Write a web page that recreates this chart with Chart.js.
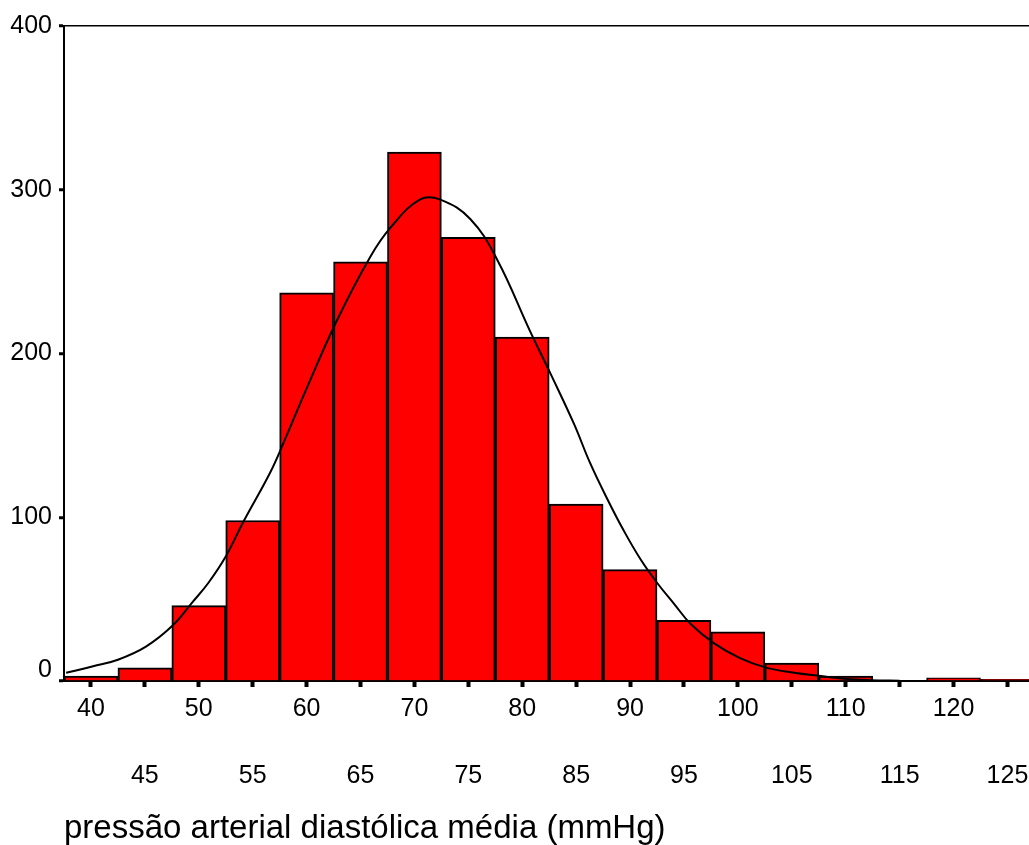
<!DOCTYPE html>
<html>
<head>
<meta charset="utf-8">
<script src="https://cdn.jsdelivr.net/npm/chart.js@4"></script>
<style>
  body { margin: 0; background: #fff; }
  #wrap { width: 1029px; height: 845px; }
</style>
</head>
<body>
<div id="wrap"><canvas id="myChart"></canvas></div>
<script>
// histogram bins (centre of each 5 mmHg class) and counts
var binCentres = [40, 45, 50, 55, 60, 65, 70, 75, 80, 85, 90, 95, 100, 105, 110, 115, 120, 125];
var binCounts  = [3, 8, 46, 98, 237, 256, 323, 271, 210, 108, 68, 37, 30, 11, 3, 0, 2, 1];

// normal curve
var curveX = [37.7, 40.2, 42.5, 45.1, 47.6, 49.4, 50.9, 52.5, 54.2, 56.6, 57.9, 59.7, 62.8, 65.9, 67.8, 70.5,
              72.4, 75.2, 77.7, 80.7, 82.6, 84.8, 86.3, 87.9, 89.4, 91.0, 92.5, 94.1, 95.6, 97.8, 100.2,
              102.7, 105.2, 107.7, 110.1, 112.3, 115];
var curveY = [5, 9, 13, 21, 34, 48, 60, 76, 98, 127, 146, 174, 220, 259, 277, 294,
              294, 282, 257, 214, 188, 157, 133, 111, 92, 74, 60, 47, 35, 23, 14,
              8, 5, 3, 1.2, 0.5, 0.2];

// tick labels
var xTicksTop = [40, 50, 60, 70, 80, 90, 100, 110, 120];
var xTicksLow = [45, 55, 65, 75, 85, 95, 105, 115, 125];
var yTicks = [0, 100, 200, 300, 400];
var xTitle = 'pressão arterial diastólica média (mmHg)';

Chart.defaults.font.family = '"Liberation Sans", Arial, sans-serif';
Chart.defaults.color = '#000';

var barData = binCentres.map(function (x, i) { return { x: x, y: binCounts[i] }; });
var lineData = curveX.map(function (x, i) { return { x: x, y: curveY[i] }; });

// keep the plot running to the right edge like the original
function noSidePad(s) { s.paddingRight = 0; s.paddingLeft = 0; }

var ctx = document.getElementById('myChart').getContext('2d');
var myChart = new Chart(ctx, {
  type: 'bar',
  data: {
    datasets: [{
      type: 'line',
      data: lineData,
      xAxisID: 'x',
      borderColor: '#000',
      borderWidth: 2,
      pointRadius: 0,
      fill: false,
      tension: 0.4,
      order: 0
    }, {
      type: 'bar',
      data: barData,
      xAxisID: 'x',
      backgroundColor: '#ff0000',
      borderColor: '#000',
      borderWidth: 2,
      barPercentage: 1,
      categoryPercentage: 1,
      order: 1
    }]
  },
  options: {
    responsive: true,
    maintainAspectRatio: false,
    animation: false,
    layout: { padding: { top: 26, right: 0, left: 0, bottom: 0 } },
    plugins: { legend: { display: false }, tooltip: { enabled: false } },
    scales: {
      x: {
        type: 'linear',
        position: 'bottom',
        weight: 0,
        min: 37.5,
        max: 127,
        offset: false,
        afterBuildTicks: function (s) {
          s.ticks = binCentres.map(function (v) { return { value: v }; });
        },
        afterFit: function (s) { s.height = 50; noSidePad(s); },
        border: { display: true, color: '#000', width: 2 },
        grid: { drawOnChartArea: false, offset: false, tickLength: 6, tickWidth: 4, tickColor: '#000' },
        ticks: {
          font: { size: 25 },
          padding: 7,
          maxRotation: 0,
          autoSkip: false,
          callback: function (v) { return xTicksTop.indexOf(v) >= 0 ? String(v) : ''; }
        }
      },
      x2: {
        type: 'linear',
        position: 'bottom',
        weight: 1,
        min: 37.5,
        max: 127,
        offset: false,
        afterBuildTicks: function (s) {
          s.ticks = xTicksLow.map(function (v) { return { value: v }; });
        },
        afterFit: function (s) { s.height = 114; noSidePad(s); },
        border: { display: false },
        grid: { display: false, drawTicks: false },
        ticks: {
          font: { size: 25 },
          padding: 30,
          maxRotation: 0,
          autoSkip: false
        },
        title: {
          display: true,
          text: xTitle,
          align: 'start',
          font: { size: 33, lineHeight: 1 },
          padding: { top: 0, bottom: 0 }
        }
      },
      y: {
        min: 0,
        max: 400,
        afterBuildTicks: function (s) {
          s.ticks = yTicks.map(function (v) { return { value: v }; });
        },
        afterFit: function (s) { s.width = 64; },
        border: { display: true, color: '#000', width: 2 },
        grid: {
          color: function (c) { return c.tick && c.tick.value === 400 ? '#000' : 'rgba(0,0,0,0)'; },
          lineWidth: 1.5,
          tickLength: 5,
          tickWidth: 3,
          tickColor: '#000'
        },
        ticks: {
          font: { size: 25, lineHeight: 0.9 },
          padding: 7,
          // the 0 label sits a little above the axis in the original
          callback: function (v) { return v === 0 ? ['0', ''] : String(v); }
        }
      }
    }
  }
});
</script>
</body>
</html>
